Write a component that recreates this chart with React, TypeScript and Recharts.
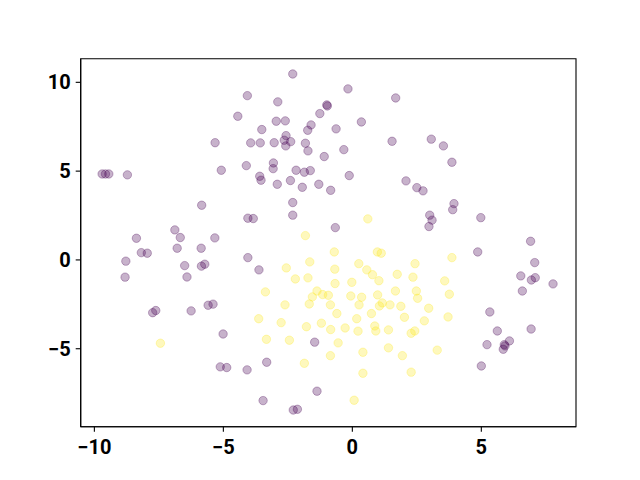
import React from "react";
import { ScatterChart, Scatter, XAxis, YAxis, ReferenceArea } from "recharts";

const xTicks = [-10, -5, 0, 5];
const yTicks = [-5, 0, 5, 10];
const xDomain: [number, number] = [-10.53, 8.67];
const yDomain: [number, number] = [-9.39, 11.33];

const class0: [number, number][] = [
  [-4.07, 9.25], [-4.44, 8.09], [-5.32, 6.6], [-3.94, 6.59], [-4.11, 5.31], [-5.08, 5.05],
  [-9.7, 4.84], [-9.57, 4.84], [-9.44, 4.84], [-8.72, 4.79], [-5.84, 3.08], [-4.05, 2.35],
  [-3.84, 2.33], [-6.88, 1.69], [-6.67, 1.26], [-8.37, 1.22], [-5.33, 1.24], [-8.18, 0.41],
  [-7.95, 0.38], [-6.79, 0.66], [-5.86, 0.66], [-8.78, -0.07], [-8.81, -0.97], [-6.5, -0.32],
  [-5.85, -0.35], [-5.72, -0.24], [-6.41, -0.96], [-4.05, 0.13], [-7.74, -2.97], [-7.62, -2.85],
  [-6.25, -2.87], [-5.59, -2.55], [-5.4, -2.49], [-5.01, -4.17], [-5.12, -6.02], [-4.87, -6.06],
  [-4.08, -6.19], [-2.31, 10.47], [-2.89, 8.9], [-0.17, 9.63], [1.68, 9.12], [-0.99, 8.73],
  [-0.97, 8.67], [-1.26, 8.24], [-2.95, 7.81], [-2.6, 7.83], [-1.6, 7.6], [-1.73, 7.3],
  [-3.51, 7.34], [-0.63, 7.38], [0.35, 7.77], [-3.57, 6.59], [-3.03, 6.6], [-2.57, 7.0],
  [-2.64, 6.74], [-2.58, 6.42], [-2.39, 6.66], [-1.82, 6.57], [-1.72, 6.14], [-1.09, 5.82],
  [-0.33, 6.21], [1.54, 6.68], [-3.06, 5.46], [-3.07, 5.14], [-3.59, 4.71], [-3.54, 4.49],
  [-2.18, 5.05], [-1.86, 4.94], [-1.63, 5.03], [-0.12, 4.75], [-2.91, 4.26], [-2.4, 4.47],
  [-1.94, 4.09], [-1.3, 4.26], [-0.84, 3.92], [2.08, 4.45], [2.5, 4.07], [-2.31, 3.23],
  [-2.31, 2.52], [-0.66, 1.82], [3.06, 6.8], [3.53, 6.42], [3.86, 5.5], [2.74, 3.89],
  [3.94, 3.17], [3.89, 2.83], [3.0, 2.52], [3.09, 2.24], [2.97, 1.88], [4.98, 2.38],
  [6.91, 1.05], [4.86, 0.45], [7.07, -0.15], [6.53, -0.9], [6.94, -1.13], [7.09, -1.0],
  [7.78, -1.35], [6.59, -1.75], [5.33, -2.93], [5.62, -4.0], [6.93, -3.89], [5.22, -4.77],
  [5.89, -4.77], [5.85, -5.03], [6.09, -4.56], [5.92, -4.84], [5.0, -5.97], [-3.62, -0.56],
  [-1.46, -4.63], [-3.32, -5.76], [-1.37, -7.39], [-3.46, -7.92], [-2.29, -8.45], [-2.13, -8.41],
];

const class1: [number, number][] = [
  [-7.44, -4.69], [0.6, 2.31], [-1.82, 1.37], [3.86, 0.13], [2.43, -0.21], [2.35, -0.97],
  [3.58, -1.18], [3.76, -1.93], [2.48, -1.75], [2.53, -2.16], [2.96, -2.72], [2.79, -3.43],
  [3.71, -3.21], [2.42, -4.0], [2.28, -4.13], [3.29, -5.08], [2.28, -6.32], [-0.7, 0.45],
  [0.97, 0.45], [1.12, 0.38], [-2.56, -0.45], [-1.65, -0.11], [-0.68, -0.52], [0.25, -0.21],
  [0.56, -0.56], [0.78, -0.83], [1.03, -1.17], [1.74, -0.81], [-2.21, -1.07], [-1.72, -1.01],
  [-0.67, -1.33], [-0.02, -1.26], [-3.37, -1.8], [-1.37, -1.75], [-1.55, -2.08], [-1.15, -1.95],
  [-0.93, -1.99], [-0.06, -2.03], [0.36, -2.1], [0.98, -1.97], [1.67, -1.75], [-2.61, -2.53],
  [-1.67, -2.48], [-0.85, -2.53], [0.26, -2.53], [1.05, -2.59], [1.16, -2.42], [1.46, -2.53],
  [1.88, -2.61], [-0.6, -3.02], [0.74, -3.02], [2.02, -3.23], [-3.63, -3.31], [-2.76, -3.53],
  [-1.78, -3.76], [-1.2, -3.56], [-0.84, -3.92], [-0.28, -3.83], [0.17, -3.31], [0.22, -4.01],
  [0.87, -3.72], [0.91, -4.0], [1.4, -3.94], [-3.33, -4.47], [-2.44, -4.52], [-0.55, -4.67],
  [0.41, -5.2], [1.4, -4.95], [1.94, -5.39], [-0.85, -5.39], [-1.86, -5.82], [0.41, -6.38],
  [0.07, -7.9],
];

const toPts = (arr: [number, number][]) => arr.map(([x, y]) => ({ x, y }));
const data0 = toPts(class0);
const data1 = toPts(class1);

const makeDot = (color: string) => (props: any) => (
  <circle
    cx={props.cx}
    cy={props.cy}
    r={4.2}
    fill={color}
    fillOpacity={0.3}
    stroke={color}
    strokeOpacity={0.3}
    strokeWidth={1}
  />
);

const tickStyle = { fill: "#000", fontFamily: "Roboto", fontWeight: "bold", fontSize: 20 };
const fmt = (v: number) => (v < 0 ? "\u2212" + Math.abs(v) : String(v));

export default function App() {
  return (
    <ScatterChart
      width={632}
      height={472}
      margin={{ top: 50.7, right: 64, bottom: 23.3, left: 0 }}
    >
      <XAxis
        type="number"
        dataKey="x"
        domain={xDomain}
        ticks={xTicks}
        allowDataOverflow
        height={30}
        tickSize={5}
        tickMargin={8}
        tick={tickStyle}
        tickFormatter={fmt}
        axisLine={{ stroke: "#000", strokeWidth: 1.1 }}
        tickLine={{ stroke: "#000", strokeWidth: 1.1 }}
      />
      <YAxis
        type="number"
        dataKey="y"
        domain={yDomain}
        ticks={yTicks}
        allowDataOverflow
        width={72.7}
        tickSize={5}
        tickMargin={5}
        tick={tickStyle}
        tickFormatter={fmt}
        axisLine={{ stroke: "#000", strokeWidth: 1.1 }}
        tickLine={{ stroke: "#000", strokeWidth: 1.1 }}
      />
      <ReferenceArea
        x1={xDomain[0]}
        x2={xDomain[1]}
        y1={yDomain[0]}
        y2={yDomain[1]}
        fill="none"
        stroke="#000"
        strokeWidth={1.1}
        ifOverflow="visible"
      />
      <Scatter data={data0} isAnimationActive={false} shape={makeDot("#440154")} />
      <Scatter data={data1} isAnimationActive={false} shape={makeDot("#fde725")} />
    </ScatterChart>
  );
}
